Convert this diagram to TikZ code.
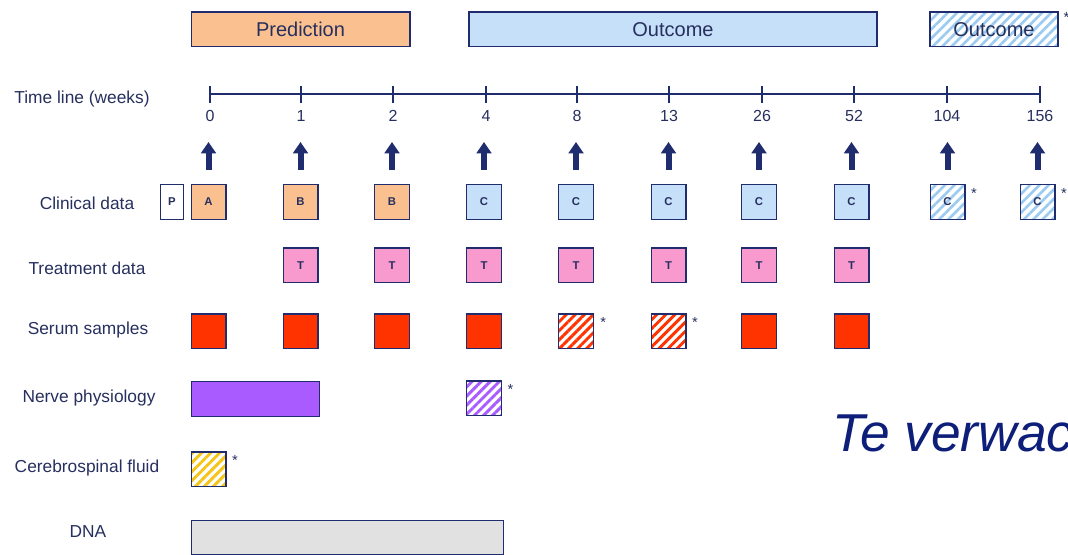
\documentclass[tikz,border=0pt]{standalone}
\usepackage{fontspec}
\setmainfont{Liberation Sans}
\usetikzlibrary{patterns.meta,arrows.meta,positioning}

\definecolor{navy}{HTML}{1F2D6E}
\definecolor{txtnavy}{HTML}{262F5E}
\definecolor{bignavy}{HTML}{0E1F7A}
\definecolor{peach}{HTML}{FAC08F}
\definecolor{skyblue}{HTML}{C6E0FA}
\definecolor{hatchblue}{HTML}{9CCBF2}
\definecolor{pinkT}{HTML}{F99ACF}
\definecolor{serumred}{HTML}{FF3300}
\definecolor{nervepurple}{HTML}{A95BFF}
\definecolor{csfyellow}{HTML}{F5C518}
\definecolor{dnagrey}{HTML}{E1E1E1}

\tikzset{
    cell/.style={draw=navy, line width=1pt, minimum width=26pt, minimum height=26pt, inner sep=0pt,
        font=\fontsize{8.5}{9}\selectfont\bfseries, text=txtnavy},
    bar/.style={cell, minimum height=26pt, font=\fontsize{15}{17}\selectfont},
    hatchthin/.style={pattern={Lines[angle=45,distance=5pt,line width=2pt]}, pattern color=#1},
    hatchthick/.style={pattern={Lines[angle=45,distance=4.8pt,line width=2.2pt]}, pattern color=#1},
    rowlabel/.style={font=\fontsize{13}{15}\selectfont, text=txtnavy},
    ticklabel/.style={font=\fontsize{12}{14}\selectfont, text=txtnavy, inner sep=1pt},
    star/.style={font=\fontsize{11}{11}\selectfont, text=txtnavy, inner sep=1pt, anchor=north west},
    bigarrow/.style={line width=4.5pt, draw=navy, -{Triangle[width=11pt,length=8.5pt]}},
}

\begin{document}
\begin{tikzpicture}[x=0.75pt, y=-0.75pt]
    \useasboundingbox (0,0) rectangle (1068,555);

    \begin{scope}
        \node[bar, fill=peach, minimum width=164pt] (pred) at (300.5,29.5) {Prediction};
        \node[bar, fill=skyblue, minimum width=306pt] (outc) at (673,29.5) {Outcome};
        \node[bar, hatchthin=hatchblue, minimum width=96pt] (outc_late) at (994,29.5) {Outcome};
        \node[star, xshift=2pt] at (outc_late.north east) {*};
    \end{scope}

    \node[rowlabel] (lbl_time) at (82,99) {Time line (weeks)};
    \node[rowlabel] (lbl_clin) at (87,203) {Clinical data};
    \node[rowlabel] (lbl_treat) at (87,268) {Treatment data};
    \node[rowlabel] (lbl_serum) at (88,330) {Serum samples};
    \node[rowlabel] (lbl_nerve) at (89,398) {Nerve physiology};
    \node[rowlabel] (lbl_csf) at (87,468) {Cerebrospinal fluid};
    \node[rowlabel] (lbl_dna) at (88,532) {DNA};

    \foreach \x/\wk [count=\i] in {210/0,301/1,393/2,486/4,577/8,669/13,762/26,854/52,947/104,1040/156} {
        \coordinate (t_\i) at (\x,94);
        \draw[navy, line width=1.6pt] (\x,86) -- (\x,103);
        \node[ticklabel] (lab_\i) at (\x,116) {\wk};
    }
    \draw[navy, line width=2pt] (t_1) -- (t_10);

    \node[cell, fill=peach] (c_1) at (208.5,202) {A};
    \node[cell, fill=white, minimum width=17pt, left=5pt of c_1] (p_1) {P};
    \foreach \i/\x in {2/300.5,3/392} {
        \node[cell, fill=peach] (c_\i) at (\x,202) {B};
    }
    \foreach \i/\x in {4/484,5/576,6/668.5,7/759,8/851.5} {
        \node[cell, fill=skyblue] (c_\i) at (\x,202) {C};
    }
    \foreach \i/\x in {9/947.5,10/1037.5} {
        \node[cell, hatchthin=hatchblue] (c_\i) at (\x,202) {C};
        \node[star, xshift=3pt, yshift=-2pt] at (c_\i.north east) {*};
    }
    \foreach \i in {1,...,10} {
        \draw[bigarrow] ([yshift=10.5pt]c_\i.north) -- ++(0,-28);
    }

    \foreach \i/\x in {2/300.5,3/392,4/484,5/576,6/668.5,7/759,8/851.5} {
        \node[cell, fill=pinkT] (tr_\i) at (\x,265.5) {T};
    }

    \foreach \i/\x in {1/208.5,2/300.5,3/392,4/484,7/759,8/851.5} {
        \node[cell, fill=serumred] (s_\i) at (\x,331.5) {};
    }
    \foreach \i/\x in {5/576,6/668.5} {
        \node[cell, hatchthick=serumred] (s_\i) at (\x,331.5) {};
        \node[star, xshift=3pt, yshift=-2pt] at (s_\i.north east) {*};
    }

    \node[cell, fill=nervepurple, minimum width=96pt, anchor=west] (nerve_1) at (191,399) {};
    \node[cell, hatchthick=nervepurple] (nerve_4) at (484,398.5) {};
    \node[star, xshift=3pt, yshift=-2pt] at (nerve_4.north east) {*};

    \node[cell, hatchthick=csfyellow] (csf_1) at (208.5,469.5) {};
    \node[star, xshift=3pt, yshift=-2pt] at (csf_1.north east) {*};

    \node[cell, fill=dnagrey, minimum width=234pt, minimum height=25.5pt, anchor=north west] (dna_1) at (191,520) {};

    \node[anchor=base west, inner sep=0pt, font=\fontsize{40}{40}\selectfont\itshape, text=bignavy] (expect) at (832,452) {Te verwac};
\end{tikzpicture}
\end{document}
